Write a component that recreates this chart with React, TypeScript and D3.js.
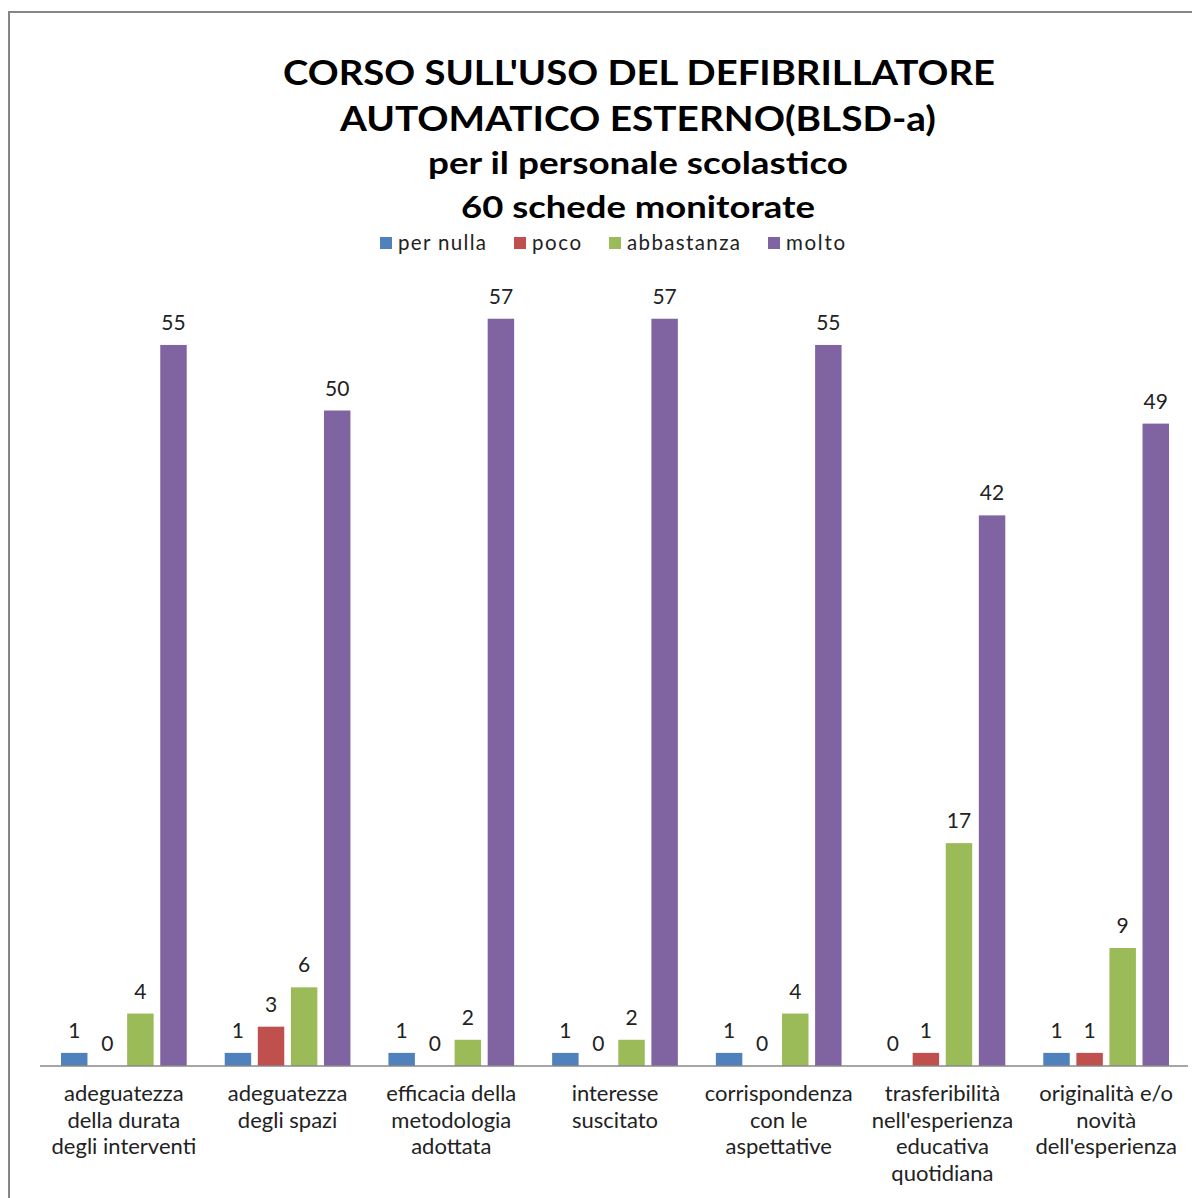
import React from "react";
import * as d3 from "d3";

const categories: string[][] = [
  ["adeguatezza", "della durata", "degli interventi"],
  ["adeguatezza", "degli spazi"],
  ["efficacia della", "metodologia", "adottata"],
  ["interesse", "suscitato"],
  ["corrispondenza", "con le", "aspettative"],
  ["trasferibilità", "nell'esperienza", "educativa", "quotidiana"],
  ["originalità e/o", "novità", "dell'esperienza"],
];
const seriesNames = ["per nulla", "poco", "abbastanza", "molto"];
const perNulla = [1, 1, 1, 1, 1, 0, 1];
const poco = [0, 3, 0, 0, 0, 1, 1];
const abbastanza = [4, 6, 2, 2, 4, 17, 9];
const molto = [55, 50, 57, 57, 55, 42, 49];
const colors = ["#4F81BD", "#C0504D", "#9BBB59", "#8064A2"];
const titleLines = [
  "CORSO SULL'USO DEL DEFIBRILLATORE",
  "AUTOMATICO ESTERNO(BLSD-a)",
  "per il personale scolastico",
  "60 schede monitorate",
];

const W = 1192;
const H = 1198;
const FONT = "Lato, 'Open Sans', sans-serif";

export default function App() {
  const series = [perNulla, poco, abbastanza, molto];
  const keys = categories.map((_, i) => String(i));
  const x = d3.scaleBand<string>().domain(keys).range([42, 1188]).padding(0);
  const bw = x.bandwidth();
  const xs = d3
    .scaleBand<string>()
    .domain(seriesNames)
    .range([19, bw - 19])
    .paddingInner(0.2)
    .paddingOuter(0);
  const y = d3.scaleLinear().domain([0, 60]).range([1066, 279.4]);

  const legendX = [380, 514, 609, 768];
  const legendLen = [88, 49, 113, 59];

  return (
    <svg
      width={W}
      height={H}
      style={{ position: "absolute", left: 0, top: 0, background: "#fff" }}
      fontFamily={FONT}
    >
      <rect x={0} y={0} width={W} height={H} fill="#fff" />
      <path d={`M9,${H} L9,12 L${W},12`} fill="none" stroke="#868686" strokeWidth={2} />

      {/* Title */}
      <g fontWeight="bold" textAnchor="middle" fill="#000">
        <text x={639} y={85} fontSize={35} textLength={712} lengthAdjust="spacingAndGlyphs">
          {titleLines[0]}
        </text>
        <text x={638} y={131} fontSize={35} textLength={596} lengthAdjust="spacingAndGlyphs">
          {titleLines[1]}
        </text>
        <text x={638} y={174} fontSize={30} textLength={420} lengthAdjust="spacingAndGlyphs">
          {titleLines[2]}
        </text>
        <text x={638} y={218} fontSize={30} textLength={354} lengthAdjust="spacingAndGlyphs">
          {titleLines[3]}
        </text>
      </g>

      {/* Legend */}
      <g fontSize={20.5} fill="#222">
        {seriesNames.map((n, i) => (
          <g key={n}>
            <rect x={legendX[i]} y={237} width={12} height={12} fill={colors[i]} />
            <text
              x={legendX[i] + 18}
              y={250}
              textLength={legendLen[i]}
              lengthAdjust="spacing"
            >
              {n}
            </text>
          </g>
        ))}
      </g>

      {/* Bars */}
      {keys.map((k, ci) => (
        <g key={k} transform={`translate(${x(k)},0)`}>
          {series.map((s, si) => {
            const v = s[ci];
            const bx = xs(seriesNames[si])!;
            return (
              <g key={si}>
                {v > 0 && (
                  <rect
                    x={bx}
                    y={y(v)}
                    width={xs.bandwidth()}
                    height={y(0) - y(v)}
                    fill={colors[si]}
                  />
                )}
                <text
                  x={bx + xs.bandwidth() / 2}
                  y={y(v) - 15}
                  textAnchor="middle"
                  fontSize={21}
                  fill="#222"
                >
                  {v}
                </text>
              </g>
            );
          })}
        </g>
      ))}

      {/* Axis line */}
      <line x1={40} x2={1188} y1={1066} y2={1066} stroke="#888" strokeWidth={1.5} />

      {/* Category labels */}
      <g fontSize={22} fill="#222" textAnchor="middle">
        {keys.map((k, ci) => (
          <text key={k} x={x(k)! + bw / 2} y={1101}>
            {categories[ci].map((line, li) => (
              <tspan key={li} x={x(k)! + bw / 2} dy={li === 0 ? 0 : 26.5}>
                {line}
              </tspan>
            ))}
          </text>
        ))}
      </g>
    </svg>
  );
}
